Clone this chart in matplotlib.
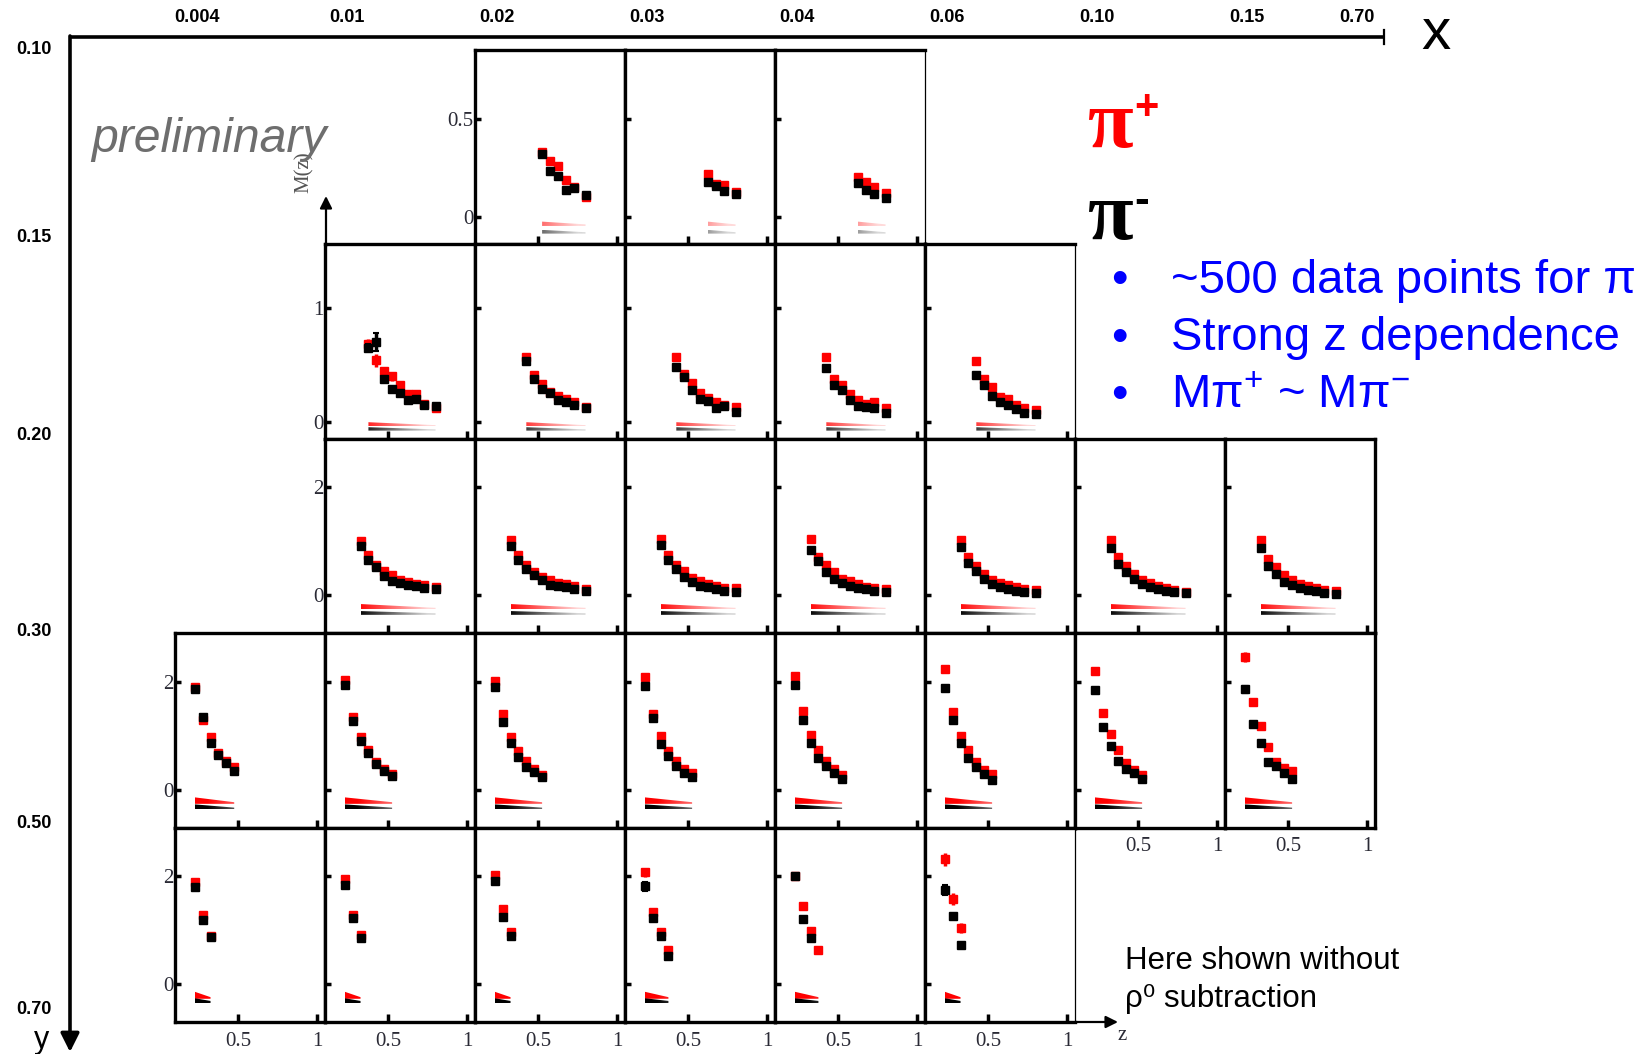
import numpy as np
import matplotlib
matplotlib.use("Agg")
import matplotlib.pyplot as plt
from matplotlib.ticker import FixedLocator, FuncFormatter
from matplotlib.patches import Polygon
from matplotlib.colors import LinearSegmentedColormap

plt.rcParams["mathtext.fontset"] = "custom"
plt.rcParams["mathtext.rm"] = "Liberation Sans"
plt.rcParams["mathtext.it"] = "Liberation Sans:italic"

# z bin centres shared by all panels
z_bins = [0.225, 0.275, 0.325, 0.375, 0.425, 0.475, 0.525, 0.575, 0.625, 0.675, 0.725, 0.80]

# bin edges of the outer x / y axes
x_edges = ["0.004", "0.01", "0.02", "0.03", "0.04", "0.06", "0.10", "0.15", "0.70"]
y_edges = ["0.10", "0.15", "0.20", "0.30", "0.50", "0.70"]

# filled x-columns in each y-row and first z bin index of each panel
row_cols = [[2, 3, 4], [1, 2, 3, 4, 5], [1, 2, 3, 4, 5, 6, 7],
            [0, 1, 2, 3, 4, 5, 6, 7], [0, 1, 2, 3, 4, 5]]
row_zstart = [[6, 8, 8], [3, 4, 4, 4, 4], [2] * 7, [0] * 8, [0] * 6]

# multiplicities M(z), pi+ and pi-, one list per panel of a y-row
plus_y010 = [[0.33, 0.285, 0.26, 0.19, 0.15, 0.10],
             [0.22, 0.17, 0.16, 0.125],
             [0.205, 0.18, 0.15, 0.12]]
minus_y010 = [[0.32, 0.235, 0.21, 0.135, 0.145, 0.11],
              [0.18, 0.155, 0.13, 0.115],
              [0.175, 0.137, 0.115, 0.094]]

plus_y015 = [[0.68, 0.54, 0.45, 0.40, 0.32, 0.24, 0.24, 0.16, 0.125],
             [0.57, 0.41, 0.33, 0.26, 0.23, 0.20, 0.17, 0.13],
             [0.57, 0.42, 0.34, 0.25, 0.21, 0.17, 0.145, 0.13],
             [0.57, 0.38, 0.32, 0.24, 0.19, 0.16, 0.17, 0.12],
             [0.53, 0.38, 0.31, 0.22, 0.20, 0.15, 0.12, 0.10]]
minus_y015 = [[0.65, 0.70, 0.38, 0.29, 0.25, 0.19, 0.20, 0.145, 0.135],
              [0.53, 0.38, 0.29, 0.25, 0.19, 0.17, 0.145, 0.12],
              [0.48, 0.39, 0.28, 0.20, 0.18, 0.12, 0.14, 0.09],
              [0.47, 0.32, 0.28, 0.19, 0.14, 0.13, 0.125, 0.08],
              [0.41, 0.32, 0.23, 0.17, 0.145, 0.11, 0.08, 0.064]]

plus_y020 = [[1.00, 0.75, 0.56, 0.45, 0.37, 0.28, 0.25, 0.22, 0.19, 0.16],
             [1.03, 0.74, 0.57, 0.43, 0.34, 0.28, 0.23, 0.21, 0.17, 0.12],
             [1.04, 0.75, 0.57, 0.45, 0.33, 0.26, 0.21, 0.17, 0.14, 0.13],
             [1.04, 0.72, 0.57, 0.43, 0.31, 0.26, 0.21, 0.16, 0.14, 0.11],
             [1.03, 0.71, 0.54, 0.40, 0.29, 0.23, 0.19, 0.16, 0.12, 0.10],
             [1.03, 0.72, 0.55, 0.39, 0.29, 0.23, 0.18, 0.14, 0.10, 0.06],
             [1.03, 0.67, 0.52, 0.37, 0.28, 0.22, 0.17, 0.13, 0.10, 0.08]]
minus_y020 = [[0.91, 0.66, 0.52, 0.36, 0.26, 0.23, 0.20, 0.17, 0.14, 0.11],
              [0.92, 0.66, 0.49, 0.37, 0.28, 0.20, 0.17, 0.15, 0.12, 0.08],
              [0.94, 0.66, 0.49, 0.34, 0.25, 0.18, 0.16, 0.11, 0.09, 0.07],
              [0.85, 0.63, 0.43, 0.31, 0.23, 0.17, 0.14, 0.11, 0.08, 0.07],
              [0.90, 0.60, 0.45, 0.31, 0.22, 0.16, 0.11, 0.09, 0.07, 0.05],
              [0.88, 0.58, 0.43, 0.31, 0.21, 0.15, 0.11, 0.08, 0.06, 0.04],
              [0.87, 0.55, 0.40, 0.25, 0.19, 0.13, 0.10, 0.08, 0.05, 0.03]]

plus_y030 = [[1.90, 1.29, 0.97, 0.69, 0.54, 0.42],
             [2.03, 1.35, 0.98, 0.73, 0.52, 0.39, 0.29],
             [2.02, 1.40, 0.98, 0.71, 0.53, 0.39, 0.28],
             [2.09, 1.40, 1.00, 0.71, 0.53, 0.39, 0.31],
             [2.10, 1.46, 1.02, 0.74, 0.54, 0.39, 0.28],
             [2.23, 1.44, 1.00, 0.74, 0.52, 0.37, 0.29],
             [2.20, 1.43, 1.03, 0.74, 0.49, 0.37, 0.28],
             [2.46, 1.63, 1.19, 0.79, 0.51, 0.40, 0.34]]
minus_y030 = [[1.86, 1.34, 0.87, 0.65, 0.50, 0.34],
              [1.95, 1.28, 0.90, 0.68, 0.48, 0.34, 0.25],
              [1.90, 1.26, 0.87, 0.60, 0.43, 0.33, 0.23],
              [1.92, 1.33, 0.85, 0.63, 0.45, 0.31, 0.23],
              [1.95, 1.29, 0.86, 0.58, 0.44, 0.31, 0.20],
              [1.88, 1.29, 0.87, 0.58, 0.43, 0.29, 0.18],
              [1.85, 1.16, 0.81, 0.54, 0.38, 0.31, 0.20],
              [1.86, 1.22, 0.86, 0.51, 0.44, 0.31, 0.20]]

plus_y050 = [[1.89, 1.29, 0.89],
             [1.95, 1.29, 0.92],
             [2.02, 1.39, 0.97],
             [2.07, 1.34, 0.97, 0.64],
             [2.00, 1.44, 0.98, 0.64],
             [2.31, 1.57, 1.04]]
minus_y050 = [[1.80, 1.18, 0.88],
              [1.83, 1.23, 0.86],
              [1.92, 1.24, 0.90],
              [1.81, 1.22, 0.89, 0.53],
              [2.00, 1.21, 0.85, np.nan],
              [1.75, 1.27, 0.72]]

plus_rows = [plus_y010, plus_y015, plus_y020, plus_y030, plus_y050]
minus_rows = [minus_y010, minus_y015, minus_y020, minus_y030, minus_y050]

# visible statistical errors: (row, col, point index, error)
err_plus = [(1, 1, 0, 0.05), (1, 1, 1, 0.06), (1, 1, 3, 0.04), (2, 4, 0, 0.04),
            (3, 6, 0, 0.07), (3, 7, 0, 0.10), (3, 7, 1, 0.06),
            (4, 3, 0, 0.08), (4, 4, 1, 0.07), (4, 5, 0, 0.12), (4, 5, 1, 0.11), (4, 5, 2, 0.10)]
err_minus = [(1, 1, 1, 0.08), (1, 1, 0, 0.03), (3, 7, 0, 0.06), (4, 3, 0, 0.08), (4, 5, 0, 0.09)]

# systematic bands per row: (top at first z, top at last z, bottom)
sys_plus = [(-0.024, -0.038, -0.046), (-0.004, -0.030, -0.038), (-0.16, -0.23, -0.26),
            (-0.14, -0.23, -0.26), (-0.14, -0.24, -0.27)]
sys_minus = [(-0.066, -0.078, -0.085), (-0.048, -0.067, -0.078), (-0.29, -0.33, -0.36),
             (-0.27, -0.33, -0.36), (-0.26, -0.31, -0.35)]

ylims = [(-0.14, 0.85), (-0.15, 1.56), (-0.70, 2.90), (-0.70, 2.90), (-0.70, 2.90)]
yticks = [[0, 0.5], [0, 1], [0, 2], [0, 2], [0, 2]]

W, H = 1644, 1054
COL0, COLW = 175, 150
ROW0, ROWH = 50, 194.4
SERIF = ["Liberation Serif", "DejaVu Serif"]
SANS = ["Liberation Sans", "DejaVu Sans"]
TICKC = "#2a2a35"

fig = plt.figure(figsize=(W / 100, H / 100), dpi=100)


def px_box(x, y, w, h):
    return [x / W, 1 - (y + h) / H, w / W, h / H]


def band(ax, z0, z1, spec, rgb):
    # wedge-shaped systematic band, fading towards high z
    top0, top1, bottom = spec
    poly = Polygon([(z0, top0), (z1, top1), (z1, bottom), (z0, bottom)],
                   closed=True, fc="none", ec="none")
    ax.add_patch(poly)
    zz = np.linspace(z0, z1, 80)
    fade = np.clip((zz - 0.3) / 0.45, 0, 1) * 0.85
    cmap = LinearSegmentedColormap.from_list("fade", [rgb, (1, 1, 1)])
    im = ax.imshow(fade[None, :], extent=[z0, z1, bottom, top0], aspect="auto",
                   cmap=cmap, vmin=0, vmax=1, origin="lower",
                   interpolation="bilinear", zorder=2)
    im.set_clip_path(poly)


thin_right = {(0, 4), (1, 5), (4, 5)}
fmt = FuncFormatter(lambda v, p: "%g" % v)

for r, cols in enumerate(row_cols):
    for k, c in enumerate(cols):
        ax = fig.add_axes(px_box(COL0 + COLW * c, ROW0 + ROWH * r, COLW, ROWH))
        i0 = row_zstart[r][k]
        yp = plus_rows[r][k]
        ym = minus_rows[r][k]
        z = z_bins[i0:i0 + len(yp)]
        ep = np.zeros(len(yp))
        em = np.zeros(len(ym))
        for (rr, cc, i, e) in err_plus:
            if rr == r and cc == c:
                ep[i] = e
        for (rr, cc, i, e) in err_minus:
            if rr == r and cc == c:
                em[i] = e

        band(ax, z[0], z[-1], sys_plus[r], (1.0, 0.0, 0.0))
        band(ax, z[0], z[-1], sys_minus[r], (0.0, 0.0, 0.0))
        ax.errorbar(z, yp, yerr=ep, fmt="s", ms=6, color="red", ecolor="red",
                    elinewidth=2.5, capsize=0, zorder=3)
        ax.errorbar(z, ym, yerr=em, fmt="s", ms=6, color="black", ecolor="black",
                    elinewidth=2.5, capsize=2.5, capthick=1.5, zorder=4)

        ax.set_xlim(0.1, 1.05)
        ax.set_ylim(*ylims[r])
        ax.xaxis.set_major_locator(FixedLocator([0.5, 1.0]))
        ax.yaxis.set_major_locator(FixedLocator(yticks[r]))
        ax.xaxis.set_major_formatter(fmt)
        ax.yaxis.set_major_formatter(fmt)
        show_y = (k == 0)
        show_z = not (r + 1 < len(row_cols) and c in row_cols[r + 1])
        ax.tick_params(axis="y", direction="in", length=4, width=2.5, pad=1,
                       labelsize=15, labelcolor=TICKC, labelleft=show_y)
        ax.tick_params(axis="x", direction="in", length=6, width=2.5, pad=7,
                       labelsize=15, labelcolor=TICKC, labelbottom=show_z)
        for lab in ax.get_xticklabels() + ax.get_yticklabels():
            lab.set_fontfamily(SERIF)
        for s in ax.spines.values():
            s.set_linewidth(2.4)
        if (r, c) in thin_right:
            ax.spines["right"].set_linewidth(0.9)

# overlay for the outer axes and annotations, in pixel units
deco = fig.add_axes([0, 0, 1, 1], zorder=5)
deco.set_xlim(0, W)
deco.set_ylim(H, 0)
deco.axis("off")

deco.plot([70, 1384], [37, 37], color="black", lw=2.6, solid_capstyle="butt")
deco.plot([1384, 1384], [30, 44], color="black", lw=1.6)
deco.annotate("", xy=(70, 1052), xytext=(70, 36),
              arrowprops=dict(arrowstyle="-|>", lw=2.6, color="black",
                              mutation_scale=28, shrinkA=0, shrinkB=0))
deco.annotate("", xy=(326, 196), xytext=(326, 247),
              arrowprops=dict(arrowstyle="-|>", lw=1.6, color="black",
                              mutation_scale=18, shrinkA=0, shrinkB=0))
deco.annotate("", xy=(1118, 1022), xytext=(1076, 1022),
              arrowprops=dict(arrowstyle="-|>", lw=1.6, color="black",
                              mutation_scale=18, shrinkA=0, shrinkB=0))

for i, lab in enumerate(x_edges):
    xp = COL0 + COLW * i + 22 if i < len(x_edges) - 1 else COL0 + COLW * i - 18
    deco.text(xp, 17, lab, ha="center", va="center", fontsize=13,
              fontweight="bold", family=SANS)
y_label_px = [50, 238, 435, 632, 823, 1010]
for lab, yp_ in zip(y_edges, y_label_px):
    deco.text(34, yp_, lab, ha="center", va="center",
              fontsize=13, fontweight="bold", family=SANS)

deco.text(1436, 34, "x", ha="center", va="center", fontsize=42, family=SANS)
deco.text(42, 1040, "y", ha="center", va="center", fontsize=22, family=SANS)
deco.text(1122, 1036, "z", ha="center", va="center", fontsize=15,
          family=SERIF, color=TICKC)
deco.text(304, 172, "M(z)", ha="center", va="center", rotation=90,
          fontsize=15, family=SERIF, color="#555555")
deco.text(91, 139, "preliminary", ha="left", va="center", fontsize=34.7,
          style="italic", color="#6e6e6e", family=SANS)

deco.text(1088, 128, "π", ha="left", va="center", fontsize=60, color="red",
          fontweight="bold", family=SERIF)
deco.text(1134, 108, "+", ha="left", va="center", fontsize=30, color="red",
          fontweight="bold", family=SANS)
deco.text(1088, 220, "π", ha="left", va="center", fontsize=60, color="black",
          fontweight="bold", family=SERIF)
deco.text(1134, 201, "-", ha="left", va="center", fontsize=32, color="black",
          fontweight="bold", family=SANS)

bullets = ["~500 data points for π", "Strong z dependence",
           r"M$\mathrm{\pi}^{+}$ ~ M$\mathrm{\pi}^{-}$"]
for i, t in enumerate(bullets):
    yy = 281 + 57.5 * i
    deco.text(1119, yy, "•", ha="center", va="center", fontsize=34,
              color="#0000ff", family=SANS)
    deco.text(1171, yy, t, ha="left", va="center", fontsize=34,
              color="#0000ff", family=SANS)

deco.text(1125, 961, "Here shown without", ha="left", va="center",
          fontsize=22.5, family=SANS)
deco.text(1125, 999, "ρ⁰ subtraction", ha="left", va="center",
          fontsize=22.5, family=SANS)

fig.savefig("out.png", dpi=100)
